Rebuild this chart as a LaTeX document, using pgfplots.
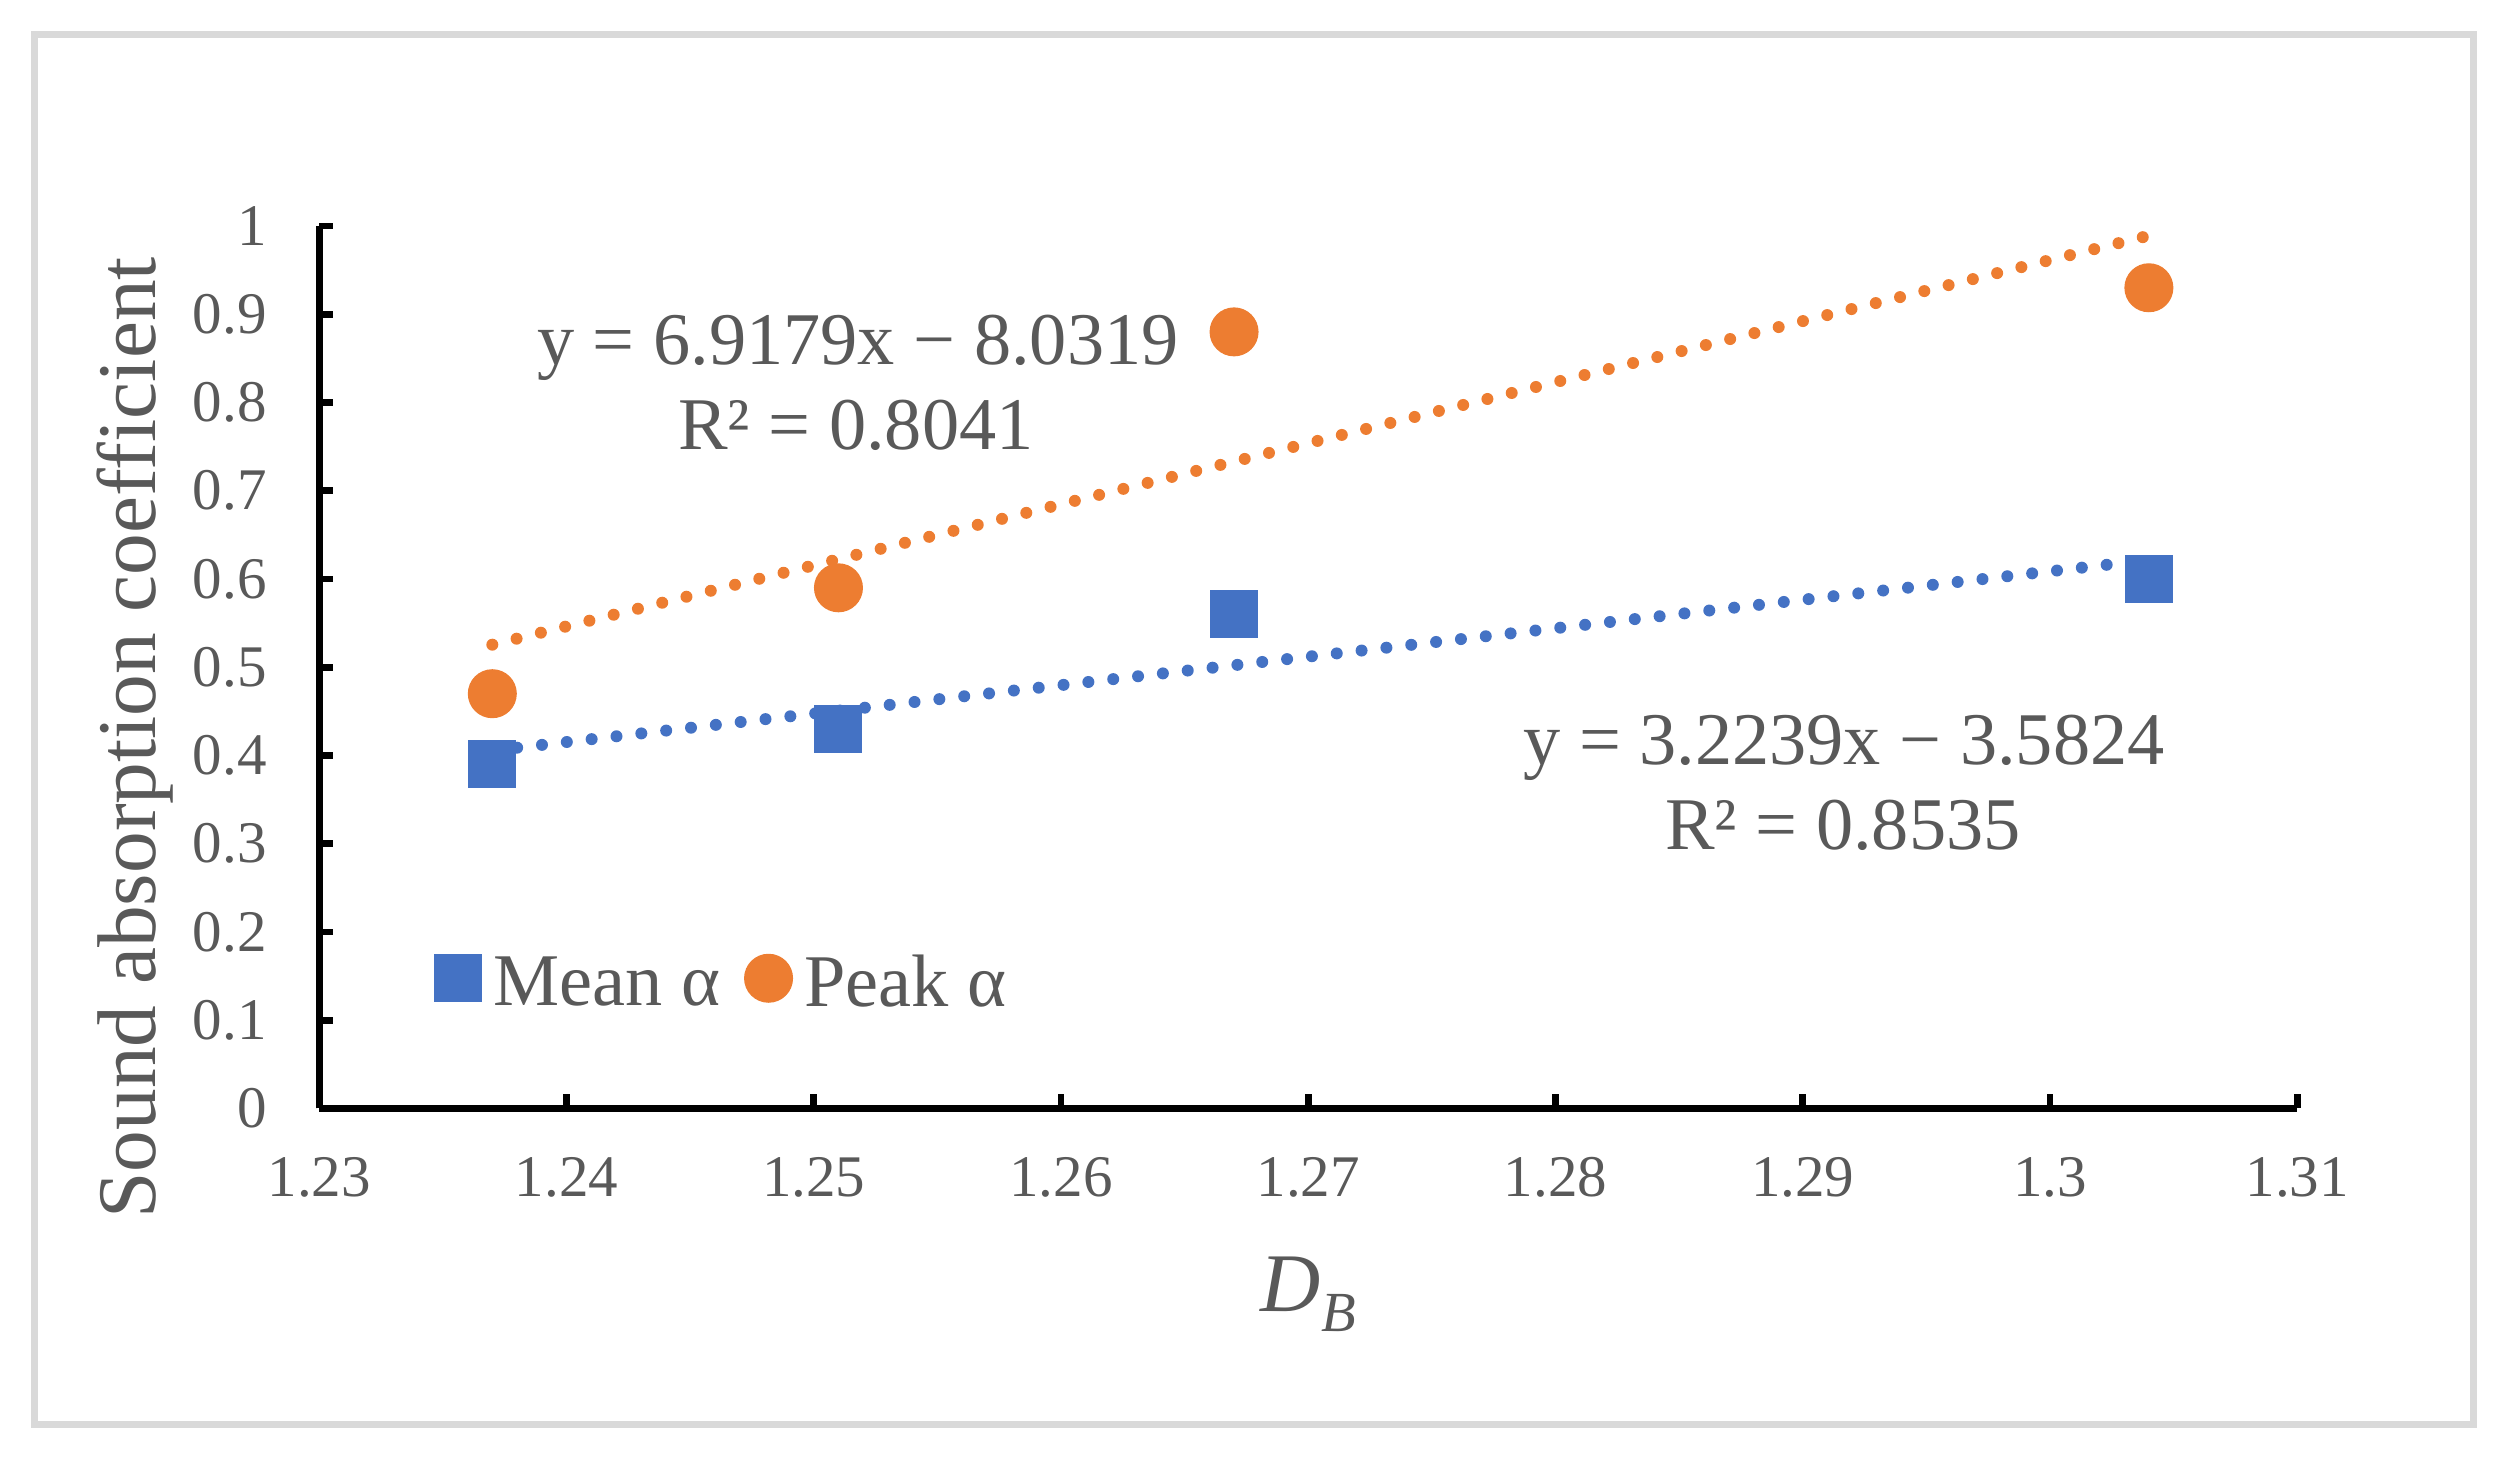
\documentclass[border=0pt]{standalone}
\usepackage{fontspec}
\setmainfont{Liberation Serif}
\usepackage{pgfplots}
\pgfplotsset{compat=1.18}
\definecolor{txt}{HTML}{595959}
\definecolor{meanc}{HTML}{4472C4}
\definecolor{peakc}{HTML}{ED7D31}
\definecolor{framec}{HTML}{D9D9D9}
\newcommand{\tickfont}{\fontsize{17.7pt}{20pt}\selectfont}
\newcommand{\eqfont}{\fontsize{22.3pt}{26pt}\selectfont}
\newcommand{\labfont}{\fontsize{25pt}{30pt}\selectfont}
\begin{document}
\begin{tikzpicture}
\path[use as bounding box] (-95.775pt,-105.45pt) rectangle (657.225pt,332.55pt);
\draw[framec, line width=2.1pt] (-85.275pt,-94.95pt) rectangle (646.125pt,322.05pt);
\begin{axis}[
  at={(0pt,0pt)}, anchor=south west,
  scale only axis, width=593.4pt, height=264.75pt,
  xmin=1.23, xmax=1.31, ymin=0, ymax=1,
  axis x line*=bottom, axis y line*=left,
  axis line style={-, black, line width=2pt},
  every outer x axis line/.append style={-},
  every outer y axis line/.append style={-},
  xtick={1.23,1.24,1.25,1.26,1.27,1.28,1.29,1.3,1.31},
  ytick={0,0.1,0.2,0.3,0.4,0.5,0.6,0.7,0.8,0.9,1},
  tick align=inside,
  major tick length=4.2pt,
  tick style={black, line width=2pt},
  /pgf/number format/assume math mode=true,
  ticklabel style={font=\tickfont, text=txt, inner sep=0pt},
  xticklabel shift=14.5pt,
  yticklabel shift=15.6pt,
  xlabel={\textit{D}\raisebox{-6pt}{\fontsize{17pt}{20pt}\selectfont\textit{B}}},
  ylabel={Sound absorption coefficient},
  every axis x label/.style={at={(axis description cs:0.5,-0.2306)}, anchor=base, font=\labfont, text=txt},
  every axis y label/.style={at={(axis description cs:-0.083,0.42)}, rotate=90, anchor=base, font=\labfont, text=txt},
  clip=false,
  legend columns=2,
  legend style={draw=none, fill=none, font=\eqfont, text=txt,
    at={(axis description cs:0.0585,0.1422)}, anchor=west,
    inner sep=0pt, outer sep=0pt,
    nodes={inner sep=0pt},
    column sep=3.5pt,
    /tikz/every even column/.append style={column sep=7.4pt}},
  legend image code/.code={\draw[#1] plot coordinates {(0pt,1.5pt)};},
]
\addplot[only marks, mark=square*, mark size=7pt, color=meanc, mark options={line width=0.4pt}]
  coordinates {(1.237,0.39) (1.251,0.43) (1.267,0.56) (1.304,0.60)};
\addlegendentry{Mean α}
\addplot[only marks, mark=*, mark size=7.15pt, color=peakc, mark options={line width=0.4pt}]
  coordinates {(1.237,0.47) (1.251,0.59) (1.267,0.88) (1.304,0.93)};
\addlegendentry{Peak α}
\addplot[meanc, line width=3.6pt, line cap=round, dash pattern=on 0pt off 7.5pt, forget plot]
  coordinates {(1.237,0.40556) (1.304,0.62157)};
\addplot[peakc, line width=3.6pt, line cap=round, dash pattern=on 0pt off 7.5pt, forget plot]
  coordinates {(1.237,0.52554) (1.304,0.98904)};
\end{axis}
\node[font=\eqfont, text=txt, anchor=base] at (161.6pt,223.05pt) {y = 6.9179x − 8.0319};
\node[font=\eqfont, text=txt, anchor=base] at (161.0pt,197.55pt) {R² = 0.8041};
\node[font=\eqfont, text=txt, anchor=base] at (457.4pt,103.05pt) {y = 3.2239x − 3.5824};
\node[font=\eqfont, text=txt, anchor=base] at (457.1pt,77.55pt) {R² = 0.8535};
\end{tikzpicture}
\end{document}
